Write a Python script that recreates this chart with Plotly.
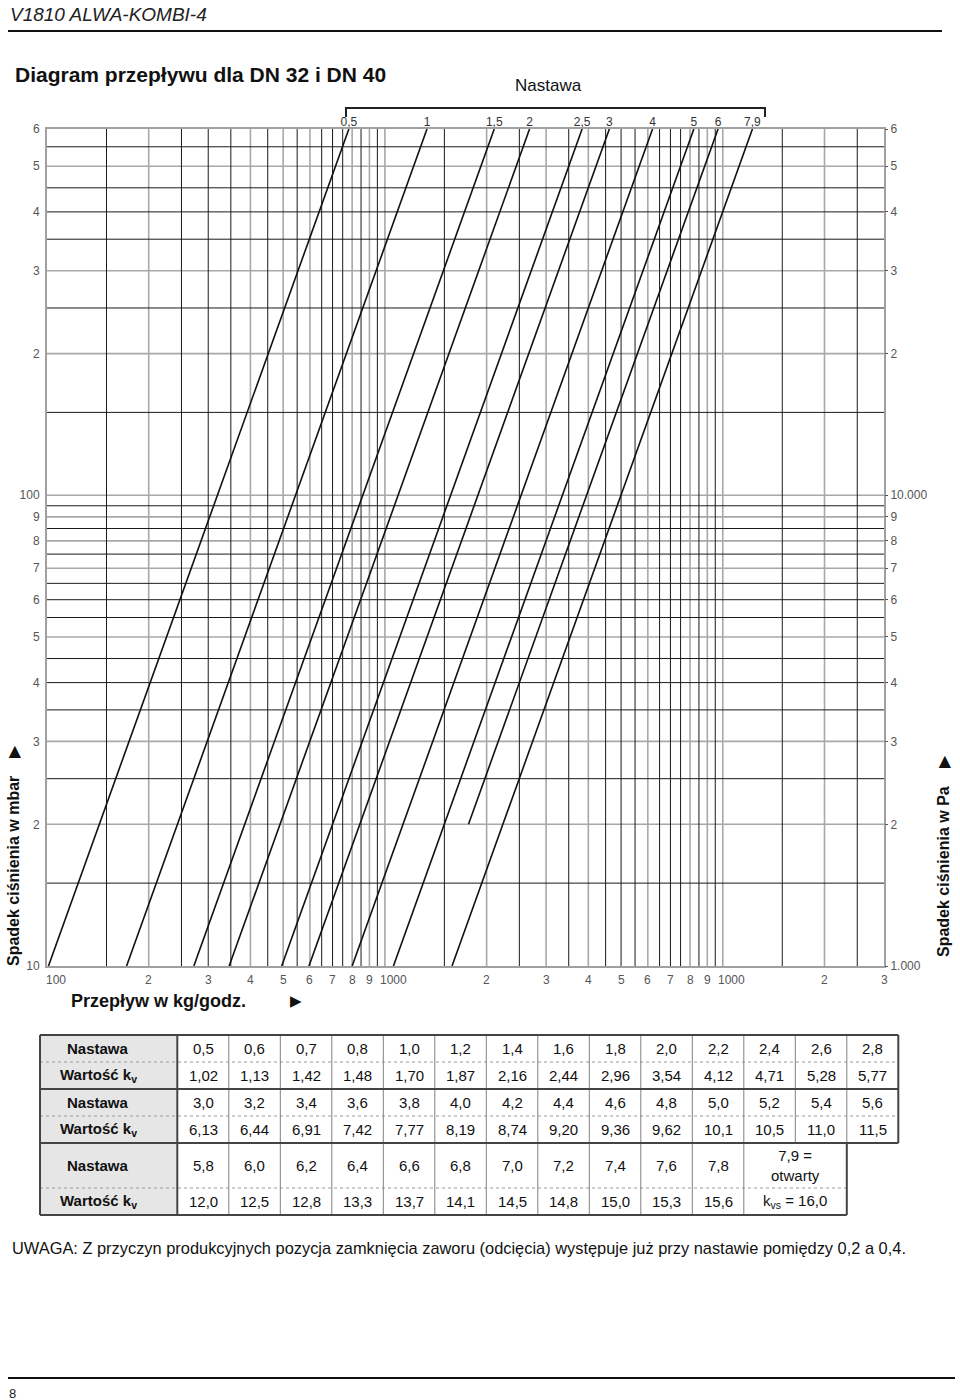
import math
import plotly.graph_objects as go

# ---------------- DATA ----------------
setting_labels = ["0,5", "1", "1,5", "2", "2,5", "3", "4", "5", "6", "7,9"]
line_kv = [1.01, 1.72, 2.72, 3.46, 4.95, 5.96, 8.0, 10.6, 12.5, 15.8]
line_dp_low = [10, 10, 10, 10, 10, 10, 10, 10, 20, 10]   # mbar, lower end of each line
dp_top = 600                                               # mbar, upper end

x_tick_vals = [100, 200, 300, 400, 500, 600, 700, 800, 900, 1000,
               2000, 3000, 4000, 5000, 6000, 7000, 8000, 9000, 10000, 20000, 30000]
x_tick_text = ["100", "2", "3", "4", "5", "6", "7", "8", "9", "1000",
               "2", "3", "4", "5", "6", "7", "8", "9", "1000", "2", "3"]

y_tick_vals = [10, 20, 30, 40, 50, 60, 70, 80, 90, 100, 200, 300, 400, 500, 600]
y_tick_text = ["10", "2", "3", "4", "5", "6", "7", "8", "9", "100", "2", "3", "4", "5", "6"]

y2_tick_vals = [1000, 2000, 3000, 4000, 5000, 6000, 7000, 8000, 9000, 10000,
                20000, 30000, 40000, 50000, 60000]
y2_tick_text = ["1.000", "2", "3", "4", "5", "6", "7", "8", "9", "10.000", "2", "3", "4", "5", "6"]

x_grid_gray = [200, 400, 500, 600, 800, 900, 1000, 2000, 3000, 4000, 6000, 8000, 9000, 10000, 20000]
x_grid_black = [150, 250, 300, 350, 450, 550, 650, 700, 750, 850, 950, 1500, 2500, 3500,
                4500, 5000, 5500, 6500, 7000, 7500, 8500, 9500, 15000, 25000]
y_grid_gray = [20, 30, 50, 70, 80, 90, 100, 200, 300, 500]
y_grid_black = [15, 25, 35, 40, 45, 55, 60, 65, 75, 85, 95, 150, 250, 350, 400, 450, 550]

table_nastawa_1 = ["0,5", "0,6", "0,7", "0,8", "1,0", "1,2", "1,4", "1,6", "1,8", "2,0", "2,2", "2,4", "2,6", "2,8"]
table_kv_1 = ["1,02", "1,13", "1,42", "1,48", "1,70", "1,87", "2,16", "2,44", "2,96", "3,54", "4,12", "4,71", "5,28", "5,77"]
table_nastawa_2 = ["3,0", "3,2", "3,4", "3,6", "3,8", "4,0", "4,2", "4,4", "4,6", "4,8", "5,0", "5,2", "5,4", "5,6"]
table_kv_2 = ["6,13", "6,44", "6,91", "7,42", "7,77", "8,19", "8,74", "9,20", "9,36", "9,62", "10,1", "10,5", "11,0", "11,5"]
table_nastawa_3 = ["5,8", "6,0", "6,2", "6,4", "6,6", "6,8", "7,0", "7,2", "7,4", "7,6", "7,8"]
table_kv_3 = ["12,0", "12,5", "12,8", "13,3", "13,7", "14,1", "14,5", "14,8", "15,0", "15,3", "15,6"]

# ---------------- LAYOUT GEOMETRY ----------------
W, H = 960, 1400
L, R, T, B = 47, 884, 129, 966
PW, PH = R - L, B - T


def px(x):
    return (x - L) / PW


def py(y):
    return (B - y) / PH


ARIAL = "Liberation Sans, Arial, sans-serif"

fig = go.Figure()


def grid_trace(vals, vertical, color, width):
    xs, ys = [], []
    for v in vals:
        if vertical:
            xs += [v, v, None]
            ys += [10, 600, None]
        else:
            xs += [100, 30000, None]
            ys += [v, v, None]
    fig.add_trace(go.Scatter(x=xs, y=ys, mode="lines", line=dict(color=color, width=width),
                             hoverinfo="skip", showlegend=False))


grid_trace(x_grid_gray, True, "#a8a8a8", 1.6)
grid_trace(y_grid_gray, False, "#a8a8a8", 1.6)
grid_trace(x_grid_black, True, "#1a1a1a", 1)
grid_trace(y_grid_black, False, "#1a1a1a", 1)

# diagonal flow lines: dp[mbar] = Q[kg/h]^2 / (1000 kv^2)
top_q = []
for kv, lo in zip(line_kv, line_dp_low):
    q_lo = kv * math.sqrt(1000 * lo)
    q_hi = kv * math.sqrt(1000 * dp_top)
    top_q.append(q_hi)
    fig.add_trace(go.Scatter(x=[q_lo, q_hi], y=[lo, dp_top], mode="lines",
                             line=dict(color="#111111", width=1.6),
                             hoverinfo="skip", showlegend=False))

fig.add_trace(go.Scatter(x=top_q, y=[dp_top] * len(top_q), mode="text", text=setting_labels,
                         textposition="top center", textfont=dict(family=ARIAL, size=12, color="#333"),
                         cliponaxis=False, hoverinfo="skip", showlegend=False))

# invisible trace for the Pa axis
fig.add_trace(go.Scatter(x=[100, 30000], y=[1000, 60000], yaxis="y2", mode="markers",
                         marker=dict(opacity=0), hoverinfo="skip", showlegend=False))

tickfont = dict(family=ARIAL, size=12, color="#555")
fig.update_layout(
    width=W, height=H,
    margin=dict(l=L, r=W - R, t=T, b=H - B),
    paper_bgcolor="white", plot_bgcolor="white",
    xaxis=dict(type="log", range=[2, math.log10(30000)], showgrid=False, zeroline=False,
               showline=True, linecolor="#a0a0a0", linewidth=2, mirror=True,
               tickvals=x_tick_vals, showticklabels=False, ticks=""),
    yaxis=dict(type="log", range=[1, math.log10(600)], showgrid=False, zeroline=False,
               showline=True, linecolor="#a0a0a0", linewidth=2, mirror=True,
               tickvals=y_tick_vals, ticktext=y_tick_text, ticks="", tickfont=tickfont,
               ticklabelstandoff=3),
    yaxis2=dict(type="log", range=[3, math.log10(60000)], overlaying="y", side="right",
                showgrid=False, zeroline=False, showline=False,
                tickvals=y2_tick_vals, ticktext=y2_tick_text, ticks="outside", ticklen=3,
                tickcolor="#555", tickfont=tickfont),
)

shapes = []
annotations = []

# x tick labels (wide labels sit just right of their grid line, as in the original)
for v, t in zip(x_tick_vals, x_tick_text):
    annotations.append(dict(text=t, x=math.log10(v), xref="x", y=0, yref="paper",
                            yanchor="top", xanchor="center", yshift=-6,
                            xshift=9 if len(t) >= 3 else 0, showarrow=False,
                            font=tickfont, borderpad=0))


def hline(x0, x1, y, color="#000", width=1, dash="solid"):
    shapes.append(dict(type="line", xref="paper", yref="paper", x0=px(x0), x1=px(x1),
                       y0=py(y), y1=py(y), line=dict(color=color, width=width, dash=dash)))


def vline(x, y0, y1, color="#000", width=1):
    shapes.append(dict(type="line", xref="paper", yref="paper", x0=px(x), x1=px(x),
                       y0=py(y0), y1=py(y1), line=dict(color=color, width=width)))


def text(t, x, y, size=14, family=ARIAL, color="#111", xanchor="center", yanchor="middle",
         angle=0):
    annotations.append(dict(text=t, x=px(x), y=py(y), xref="paper", yref="paper",
                            showarrow=False, xanchor=xanchor, yanchor=yanchor, textangle=angle,
                            font=dict(family=family, size=size, color=color), borderpad=0))


# page header
text("<i>V1810 ALWA-KOMBI-4</i>", 9, 14, size=19, color="#222", xanchor="left")
hline(8, 942, 31, "#111", 2)
text("<b>Diagram przepływu dla DN 32 i DN 40</b>", 14, 74, size=21, color="#111", xanchor="left")
text("Nastawa", 548, 86, size=17, color="#111")

# bracket over setting labels
hline(346, 765, 108, "#222", 2)
vline(346, 107, 117, "#222", 2)
vline(765, 107, 117, "#222", 2)

# axis titles
text("<b>Spadek ciśnienia w mbar</b>    ▶", 13, 856, size=16, angle=-90)
text("<b>Spadek ciśnienia w Pa</b>    ▶", 943, 856, size=16, angle=-90)
text("<b>Przepływ w kg/godz.</b>", 70, 1001, size=18, xanchor="left")
text("▶", 296, 1001, size=15)

# ---------------- TABLE ----------------
tx0, hx1, cw = 40, 177.3, 51.5
tx_end = hx1 + 14 * cw
tx_end3 = hx1 + 13 * cw

shapes.append(dict(type="rect", xref="paper", yref="paper", x0=px(tx0), x1=px(hx1),
                   y0=py(1035), y1=py(1215), fillcolor="#e6e6e6", line=dict(width=0), layer="below"))

# row dividers (thin dotted)
for y in (1062, 1116):
    hline(tx0, tx_end, y, "#9a9a9a", 1, "dot")
hline(tx0, tx_end3, 1188, "#9a9a9a", 1, "dot")
# column dividers
for k in range(1, 14):
    vline(hx1 + k * cw, 1035, 1143, "#808080", 1)
for k in range(1, 12):
    vline(hx1 + k * cw, 1143, 1215, "#808080", 1)
# block borders
hline(tx0, tx_end, 1035, "#444", 2)
hline(tx0, tx_end, 1089, "#444", 2)
hline(tx0, tx_end, 1143, "#444", 2)
hline(tx0, tx_end3, 1215, "#444", 2)
vline(tx0, 1035, 1215, "#444", 2)
vline(hx1, 1035, 1215, "#444", 2)
vline(tx_end, 1035, 1143, "#444", 2)
vline(tx_end3, 1143, 1215, "#444", 2)

hdr_x = 98
row_c = [1048.5, 1075.5, 1102.5, 1129.5, 1165.5, 1201.5]
hdrs = ["<b>Nastawa</b>", "<b>Wartość k<sub>v</sub></b>"] * 3
for t, yc in zip(hdrs, row_c):
    text(t, hdr_x, yc, size=15)

for r, vals in enumerate([table_nastawa_1, table_kv_1, table_nastawa_2, table_kv_2,
                          table_nastawa_3, table_kv_3]):
    for i, v in enumerate(vals):
        text(v, hx1 + (i + 0.5) * cw, row_c[r], size=15)

text("7,9 =<br>otwarty", hx1 + 12 * cw, 1165.5, size=15)
text("k<sub>vs</sub> = 16,0", hx1 + 12 * cw, 1201.5, size=15)

# footer
text("UWAGA: Z przyczyn produkcyjnych pozycja zamknięcia zaworu (odcięcia) występuje już przy nastawie pomiędzy 0,2 a 0,4.",
     11, 1248, size=16.4, color="#111", xanchor="left")
hline(8, 955, 1378, "#111", 2)
text("8", 8, 1393, size=13, color="#222", xanchor="left")

fig.update_layout(shapes=shapes, annotations=annotations)
fig.write_html("out.html")
